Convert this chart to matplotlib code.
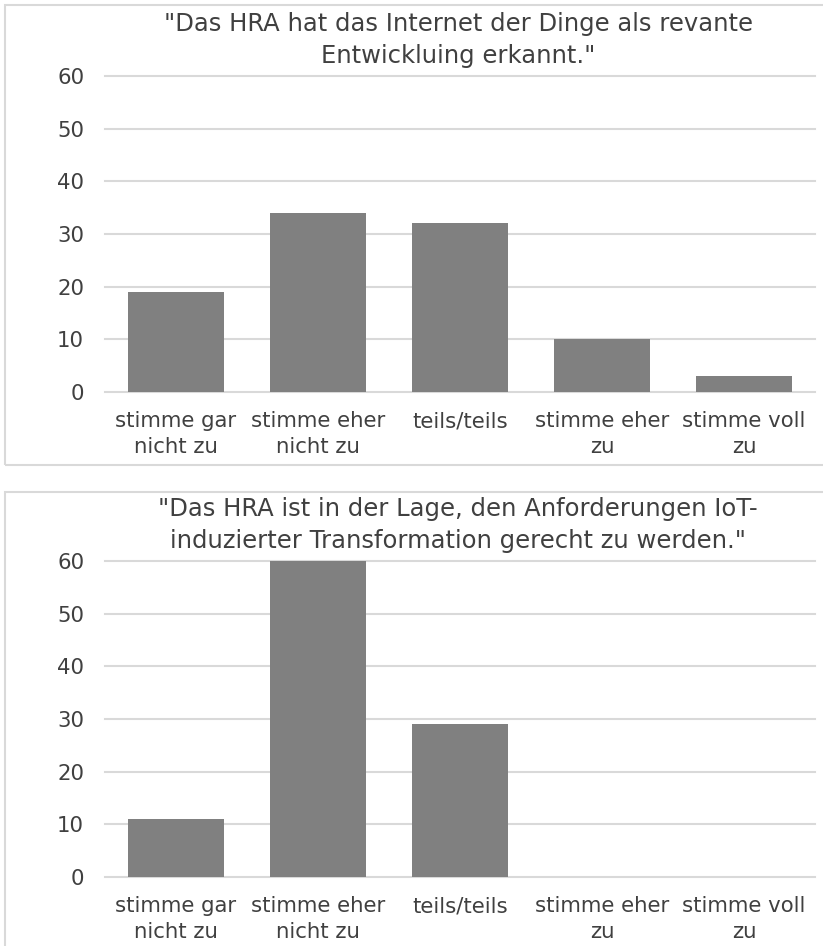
import matplotlib.pyplot as plt
from matplotlib.patches import Rectangle

categories = ["stimme gar\nnicht zu", "stimme eher\nnicht zu", "teils/teils",
              "stimme eher\nzu", "stimme voll\nzu"]
title1 = '"Das HRA hat das Internet der Dinge als revante\nEntwickluing erkannt."'
values1 = [19, 34, 32, 10, 3]
title2 = '"Das HRA ist in der Lage, den Anforderungen IoT-\ninduzierter Transformation gerecht zu werden."'
values2 = [11, 60, 29, 0, 0]
yticks = [0, 10, 20, 30, 40, 50, 60]

W, H = 823, 946
plt.rcParams['font.family'] = ['DejaVu Sans']
text_col = '#404040'

fig = plt.figure(figsize=(W / 100, H / 100), dpi=100)


def px(x0, y0, x1, y1):
    # pixel box (top-left origin) -> figure fraction
    return [x0 / W, 1 - y1 / H, (x1 - x0) / W, (y1 - y0) / H]


# panel borders
for (x0, y0, x1, y1) in [(5, 5, 830, 465), (5, 492, 830, 960)]:
    b = px(x0, y0, x1, y1)
    fig.patches.append(Rectangle((b[0], b[1]), b[2], b[3], transform=fig.transFigure,
                                 fill=False, edgecolor='#d9d9d9', linewidth=1.5))

panels = [(title1, values1, px(105, 76, 815, 392), 40),
          (title2, values2, px(105, 561, 815, 877), 525)]

for title, vals, box, ty in panels:
    ax = fig.add_axes(box)
    x = range(len(categories))
    for t in yticks:
        ax.axhline(t, color='#d9d9d9', linewidth=1.5, zorder=0, clip_on=False)
    ax.bar(x, vals, width=0.68, color='#808080', zorder=3)
    ax.set_xlim(-0.5, len(categories) - 0.5)
    ax.set_ylim(0, 60)
    ax.set_yticks(yticks)
    ax.set_xticks(list(x))
    ax.set_xticklabels(categories, fontsize=15.3, color=text_col, linespacing=1.35)
    ax.tick_params(axis='y', labelsize=15.3, labelcolor=text_col, length=0, pad=15)
    ax.tick_params(axis='x', length=0, pad=14)
    for s in ax.spines.values():
        s.set_visible(False)
    fig.text(458 / W, 1 - ty / H, title, ha='center', va='center', fontsize=17.5,
             color=text_col, linespacing=1.4)

plt.savefig("out.png", dpi=100)
